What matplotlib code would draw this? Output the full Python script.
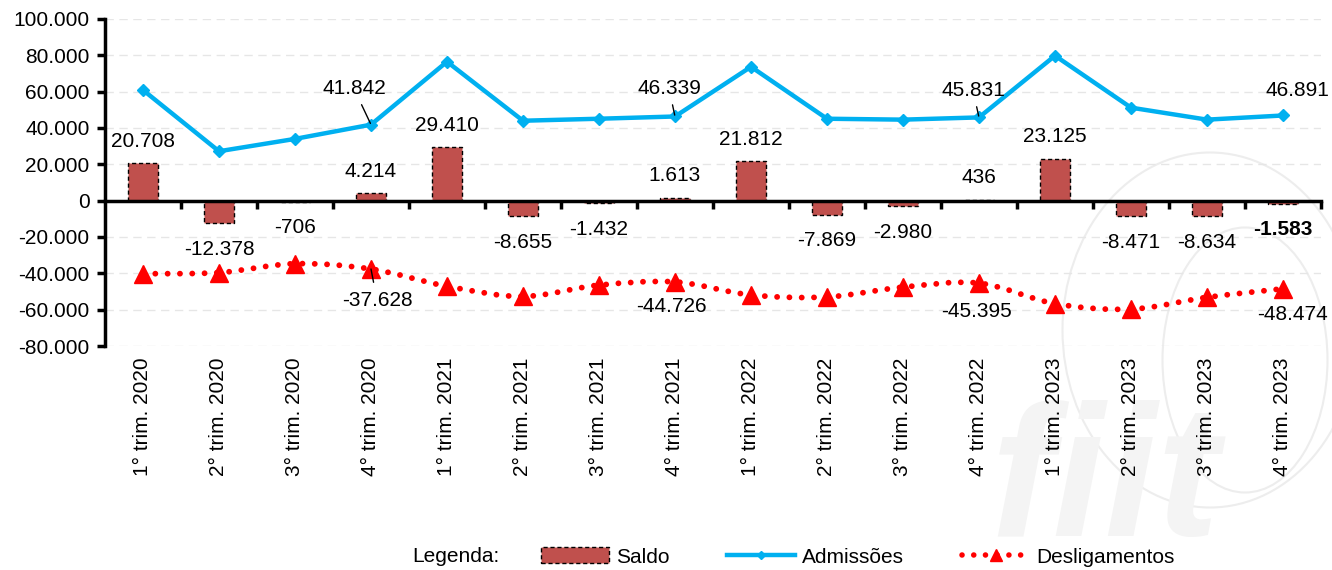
import matplotlib
matplotlib.use("Agg")
import matplotlib.pyplot as plt
import matplotlib.transforms as mtransforms
from matplotlib.path import Path
from matplotlib.patches import PathPatch, Patch, Ellipse
from matplotlib.lines import Line2D
import numpy as np

plt.rcParams['font.family'] = ['Liberation Sans', 'DejaVu Sans']

categories = ["1° trim. 2020", "2° trim. 2020", "3° trim. 2020", "4° trim. 2020",
              "1° trim. 2021", "2° trim. 2021", "3° trim. 2021", "4° trim. 2021",
              "1° trim. 2022", "2° trim. 2022", "3° trim. 2022", "4° trim. 2022",
              "1° trim. 2023", "2° trim. 2023", "3° trim. 2023", "4° trim. 2023"]
saldo = [20708, -12378, -706, 4214, 29410, -8655, -1432, 1613,
         21812, -7869, -2980, 436, 23125, -8471, -8634, -1583]
admissoes = [60900, 27200, 34000, 41842, 76500, 44000, 45100, 46339,
             73700, 45100, 44600, 45831, 79800, 51200, 44600, 46891]
desligamentos = [-40200, -39600, -34700, -37628, -47100, -52700, -46500, -44726,
                 -51900, -53000, -47600, -45395, -56700, -59700, -53200, -48474]
saldo_labels = ["20.708", "-12.378", "-706", "4.214", "29.410", "-8.655", "-1.432", "1.613",
                "21.812", "-7.869", "-2.980", "436", "23.125", "-8.471", "-8.634", "-1.583"]
adm_labels = {3: "41.842", 7: "46.339", 11: "45.831", 15: "46.891"}
des_labels = {3: "-37.628", 7: "-44.726", 11: "-45.395", 15: "-48.474"}
yticks = [-80000, -60000, -40000, -20000, 0, 20000, 40000, 60000, 80000, 100000]
ytick_labels = ["-80.000", "-60.000", "-40.000", "-20.000", "0", "20.000", "40.000",
                "60.000", "80.000", "100.000"]

C_BAR = "#C0504D"
C_ADM = "#00B0F0"
C_DES = "#FF0000"
FS = 15

fig = plt.figure(figsize=(13.32, 5.70), dpi=100)

# faint watermark behind everything
bg = fig.add_axes([0, 0, 1, 1], zorder=-10)
bg.set_xlim(0, 1332)
bg.set_ylim(570, 0)
bg.axis("off")
bg.add_patch(Ellipse((1210, 330), 295, 355, fill=False, ec="#EDEDED", lw=1.5))
bg.add_patch(Ellipse((1245, 360), 165, 265, fill=False, ec="#EDEDED", lw=1.5))
bg.text(1105, 575, "fiit", fontsize=135, fontweight="bold", style="italic",
        color="#F4F4F4", ha="center", va="bottom")

ax = fig.add_axes([105/1332, 1-346/570, (1321-105)/1332, (346-19)/570])

x = np.arange(len(categories))

ax.set_ylim(-80000, 100000)
ax.set_xlim(-0.5, len(categories) - 0.5)
ax.set_yticks(yticks)
ax.set_yticklabels(ytick_labels, fontsize=FS)
for yv in yticks:
    if yv != 0:
        ax.axhline(yv, color="#E6E6E6", lw=1, ls=(0, (6, 4)), zorder=0)

ax.patch.set_alpha(0)
for s in ["top", "right"]:
    ax.spines[s].set_visible(False)
ax.spines["left"].set_linewidth(2.5)
ax.spines["bottom"].set_position(("data", 0))
ax.spines["bottom"].set_linewidth(2.5)
ax.spines["bottom"].set_zorder(4)
ax.set_xticks(list(x[:-1] + 0.5) + [len(categories) - 0.5])
ax.set_xticklabels([])
ax.tick_params(axis="x", direction="out", length=6, width=2.5)
ax.tick_params(axis="y", direction="out", length=6, width=2.5, pad=5)

trans = mtransforms.blended_transform_factory(ax.transData, ax.transAxes)
for i, lab in enumerate(categories):
    ax.text(i, -0.035, lab, transform=trans, rotation=90, ha="center", va="top",
            fontsize=FS)

# bars
ax.bar(x, saldo, width=0.4, color=C_BAR, edgecolor="black", linewidth=1,
       linestyle=(0, (3, 2)), zorder=2)

# Admissões
ax.plot(x, admissoes, color=C_ADM, lw=3.2, marker="D", ms=6, zorder=3)

# Desligamentos smooth dotted curve (Catmull-Rom via Bezier)
pts = np.column_stack([x, desligamentos]).astype(float)
verts = [tuple(pts[0])]
codes = [Path.MOVETO]
n = len(pts)
for i in range(n - 1):
    p0 = pts[i - 1] if i > 0 else pts[i]
    p1 = pts[i]
    p2 = pts[i + 1]
    p3 = pts[i + 2] if i + 2 < n else pts[i + 1]
    c1 = p1 + (p2 - p0) / 6.0
    c2 = p2 - (p3 - p1) / 6.0
    verts += [tuple(c1), tuple(c2), tuple(p2)]
    codes += [Path.CURVE4] * 3
pp = PathPatch(Path(verts, codes), facecolor="none", edgecolor=C_DES, lw=4.2,
               linestyle=(0, (0.01, 2.1)), capstyle="round", zorder=3)
ax.add_patch(pp)
ax.plot(x, desligamentos, ls="none", marker="^", ms=13, color=C_DES, zorder=4)

# saldo labels
for i, (v, lab) in enumerate(zip(saldo, saldo_labels)):
    weight = "bold" if i == len(saldo) - 1 else "normal"
    yoff = 22 if v >= 0 else -26
    ax.annotate(lab, (i, v), xytext=(0, yoff), textcoords="offset pixels",
                ha="center", va="center", fontsize=FS, fontweight=weight, zorder=5)

# Admissões labels
adm_offsets = {3: (-17, 36), 7: (-6, 28), 11: (-6, 27), 15: (14, 25)}
for i, lab in adm_labels.items():
    dx, dy = adm_offsets[i]
    kw = {}
    if i != 15:
        kw["arrowprops"] = dict(arrowstyle="-", color="black", lw=1,
                                shrinkA=3, shrinkB=1)
    ax.annotate(lab, (i, admissoes[i]), xytext=(dx, dy), textcoords="offset pixels",
                ha="center", va="center", fontsize=FS, zorder=5, **kw)

# Desligamentos labels
des_offsets = {3: (6, -31), 7: (-4, -25), 11: (-2, -28), 15: (10, -26)}
for i, lab in des_labels.items():
    dx, dy = des_offsets[i]
    kw = {}
    if i == 3:
        kw["arrowprops"] = dict(arrowstyle="-", color="black", lw=1,
                                shrinkA=4, shrinkB=0)
    ax.annotate(lab, (i, desligamentos[i]), xytext=(dx, dy), textcoords="offset pixels",
                ha="center", va="center", fontsize=FS, zorder=5, **kw)

# legend
LFS = 15
fig.text(412/1332, 1-557/570, "Legenda:", fontsize=LFS, ha="left", va="center")
handles = [
    Patch(facecolor=C_BAR, edgecolor="black", linestyle=(0, (3, 2)), linewidth=1),
    Line2D([], [], color=C_ADM, lw=3.2, marker="D", ms=4),
    Line2D([], [], color=C_DES, lw=4, ls=(0, (0.01, 2.1)), dash_capstyle="round",
           marker="^", ms=8, markevery=[1]),
]
leg = fig.legend(handles, ["Saldo", "Admissões", "Desligamentos"], ncol=3,
                 loc="center left", bbox_to_anchor=(541/1332, 1-557/570),
                 frameon=False, fontsize=LFS, handlelength=3.27, handletextpad=0.34,
                 columnspacing=2.75, borderpad=0, borderaxespad=0, handleheight=0.8)

fig.savefig("out.png", dpi=100)
